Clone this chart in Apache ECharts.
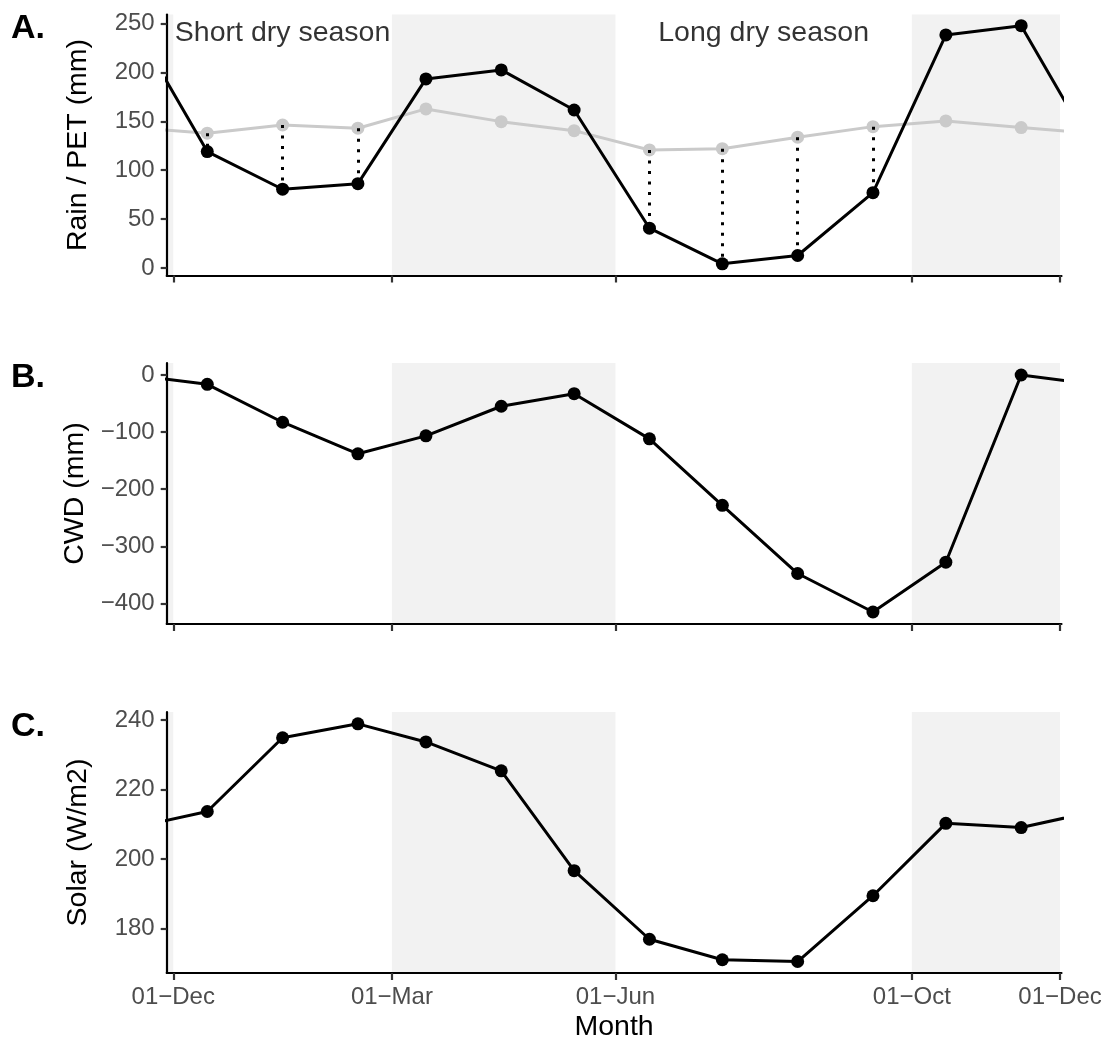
<!DOCTYPE html>
<html>
<head>
<meta charset="utf-8">
<title>Rain, PET, CWD and solar radiation by month</title>
<script src="https://cdn.jsdelivr.net/npm/echarts@6/dist/echarts.min.js"></script>
<style>
  html, body { margin: 0; padding: 0; background: #fff; }
  #chart { width: 1105px; height: 1043px; }
</style>
</head>
<body>
<div id="chart"></div>
<script>
// Monthly climatology, Dec -> Nov, each value placed at mid-month
const months = ['Dec', 'Jan', 'Feb', 'Mar', 'Apr', 'May', 'Jun', 'Jul', 'Aug', 'Sep', 'Oct', 'Nov'];
const monthDates = ['2001-12-15', '2002-01-15', '2002-02-15', '2002-03-15', '2002-04-15', '2002-05-15',
                    '2002-06-15', '2002-07-15', '2002-08-15', '2002-09-15', '2002-10-15', '2002-11-15'];

// A. rainfall and potential evapotranspiration (mm)
const rain = [119.0, 80.6, 86.3, 193.2, 202.4, 161.5, 40.8, 4.4, 12.9, 77.1, 238.1, 247.6];
const pet  = [137.8, 146.2, 142.9, 162.6, 149.6, 140.4, 120.7, 122.0, 133.7, 144.5, 150.3, 143.5];
// B. climatological water deficit (mm)
const cwd = [-16.3, -82.7, -138.0, -106.6, -54.7, -32.7, -111.8, -228.2, -347.6, -415.0, -327.8, 0];
// C. solar radiation (W/m2)
const solar = [213.7, 234.9, 238.9, 233.7, 225.4, 196.7, 177.0, 171.1, 170.6, 189.5, 210.3, 209.1];

// wet seasons (shaded)
const shadeStart = ['2001-10-01', '2002-03-01', '2002-10-01'];
const shadeEnd   = ['2001-12-01', '2002-06-01', '2002-12-01'];

// season annotations in panel A
const seasonNames = ['Short dry season', 'Long dry season'];
const seasonDates = ['2002-01-15', '2002-08-01'];
const seasonY = [240, 240];

// x ticks
const tickDates = ['2001-12-01', '2002-03-01', '2002-06-01', '2002-10-01', '2002-12-01'];
const monthAbbr = ['Jan', 'Feb', 'Mar', 'Apr', 'May', 'Jun', 'Jul', 'Aug', 'Sep', 'Oct', 'Nov', 'Dec'];

// y ticks per panel
const yTicksA = [0, 50, 100, 150, 200, 250];
const yTicksB = [-400, -300, -200, -100, 0];
const yTicksC = [180, 200, 220, 240];

const DAY = 86400000;
const FONT = "'Liberation Sans', Arial, Helvetica, sans-serif";

function ts(s, dy) {
  const p = s.split('-').map(Number);
  return Date.UTC(p[0] + (dy || 0), p[1] - 1, p[2]);
}

const xMin = ts(tickDates[0]) - 2.7 * DAY;
const xMax = ts(tickDates[4]) + 0.6 * DAY;
const xTicks = tickDates.map(d => ts(d));

// the cycle is repeated one month beyond each end so the line runs off both edges
function cycleData(vals) {
  const pts = vals.map((v, i) => [ts(monthDates[i]), v]);
  const before = { value: [ts(monthDates[11], -1), vals[11]], symbol: 'none' };
  const after = { value: [ts(monthDates[0], 1), vals[0]], symbol: 'none' };
  return [before].concat(pts, [after]);
}

function fmtDate(v) {
  const d = new Date(v);
  const dd = String(d.getUTCDate()).padStart(2, '0');
  return dd + '\u2212' + monthAbbr[d.getUTCMonth()];
}
function fmtNum(v) {
  return v < 0 ? '\u2212' + Math.abs(v) : String(v);
}

const gridTops = [14.5, 363, 712];
const grids = gridTops.map(t => ({ left: 166.7, right: 43.5, top: t, height: 261 }));

const xAxes = [0, 1, 2].map(i => ({
  type: 'value', gridIndex: i, min: xMin, max: xMax, z: 10,
  axisLine: { show: true, onZero: false, lineStyle: { color: '#000', width: 2.2 } },
  axisTick: { show: true, length: 7, customValues: xTicks, lineStyle: { color: '#333', width: 2.2 } },
  axisLabel: { show: i === 2, customValues: xTicks, formatter: fmtDate, fontSize: 24,
               color: '#4d4d4d', fontFamily: FONT, margin: 12 },
  splitLine: { show: false },
  name: i === 2 ? 'Month' : '', nameLocation: 'middle', nameGap: 40,
  nameTextStyle: { fontSize: 28.5, color: '#000', fontFamily: FONT }
}));

function yAxis(i, min, max, ticks, name) {
  return {
    type: 'value', gridIndex: i, min: min, max: max, z: 10,
    axisLine: { show: true, onZero: false, lineStyle: { color: '#000', width: 2.2 } },
    axisTick: { show: true, length: 6, customValues: ticks, lineStyle: { color: '#333', width: 2.2 } },
    axisLabel: { customValues: ticks, formatter: fmtNum, fontSize: 24, color: '#4d4d4d',
                 fontFamily: FONT, margin: 12 },
    splitLine: { show: false },
    name: name, nameLocation: 'middle', nameGap: 74,
    nameTextStyle: { fontSize: 28.5, color: '#000', fontFamily: FONT }
  };
}

const yAxes = [
  yAxis(0, -7.5, 259, yTicksA, 'Rain / PET (mm)'),
  yAxis(1, -436, 21, yTicksB, 'CWD (mm)'),
  yAxis(2, 167.3, 242.3, yTicksC, 'Solar (W/m2)')
];

const shadeAreas = shadeStart.map((s, k) => [
  { xAxis: Math.max(ts(s), xMin) }, { xAxis: Math.min(ts(shadeEnd[k]), xMax) }
]);

function shadeSeries(i) {
  return {
    type: 'line', xAxisIndex: i, yAxisIndex: i, data: [], z: 1, silent: true,
    markArea: { silent: true, itemStyle: { color: '#f2f2f2' }, data: shadeAreas }
  };
}

function lineSeries(i, vals, color, z) {
  return {
    type: 'line', xAxisIndex: i, yAxisIndex: i, data: cycleData(vals), z: z,
    symbol: 'circle', symbolSize: 13, showAllSymbol: true, silent: true,
    lineStyle: { color: color, width: 3 },
    itemStyle: { color: color },
    emphasis: { disabled: true }
  };
}

// dotted links where rainfall falls below PET
const deficitLinks = [];
months.forEach((m, i) => {
  if (rain[i] < pet[i]) {
    const x = ts(monthDates[i]);
    deficitLinks.push([{ coord: [x, pet[i]] }, { coord: [x, rain[i]] }]);
  }
});

const petSeries = lineSeries(0, pet, '#cacaca', 2);
const linkSeries = {
  type: 'line', xAxisIndex: 0, yAxisIndex: 0, data: [], z: 2, silent: true,
  markLine: {
    silent: true, symbol: ['none', 'none'], label: { show: false },
    lineStyle: { color: '#000', width: 3, type: [3, 7.5] },
    emphasis: { disabled: true },
    data: deficitLinks
  }
};

const seasonSeries = {
  type: 'scatter', xAxisIndex: 0, yAxisIndex: 0, z: 6, silent: true,
  symbolSize: 1, itemStyle: { color: 'transparent' },
  data: seasonNames.map((n, k) => [ts(seasonDates[k]), seasonY[k], n]),
  label: {
    show: true, position: 'inside', formatter: p => p.data[2],
    fontSize: 28.5, color: '#000', fontFamily: FONT, align: 'center', verticalAlign: 'middle'
  }
};

const panelLetters = ['A.', 'B.', 'C.'].map((t, i) => ({
  type: 'text', left: 11, top: gridTops[i] - 2.5,
  style: { text: t, font: 'bold 34px ' + FONT, fill: '#000' }
}));

const chart = echarts.init(document.getElementById('chart'), null, { renderer: 'canvas' });
chart.setOption({
  animation: false,
  backgroundColor: '#fff',
  grid: grids,
  xAxis: xAxes,
  yAxis: yAxes,
  graphic: panelLetters,
  series: [
    shadeSeries(0), shadeSeries(1), shadeSeries(2),
    linkSeries,
    petSeries,
    lineSeries(0, rain, '#000', 3),
    lineSeries(1, cwd, '#000', 3),
    lineSeries(2, solar, '#000', 3),
    seasonSeries
  ]
});
</script>
</body>
</html>
